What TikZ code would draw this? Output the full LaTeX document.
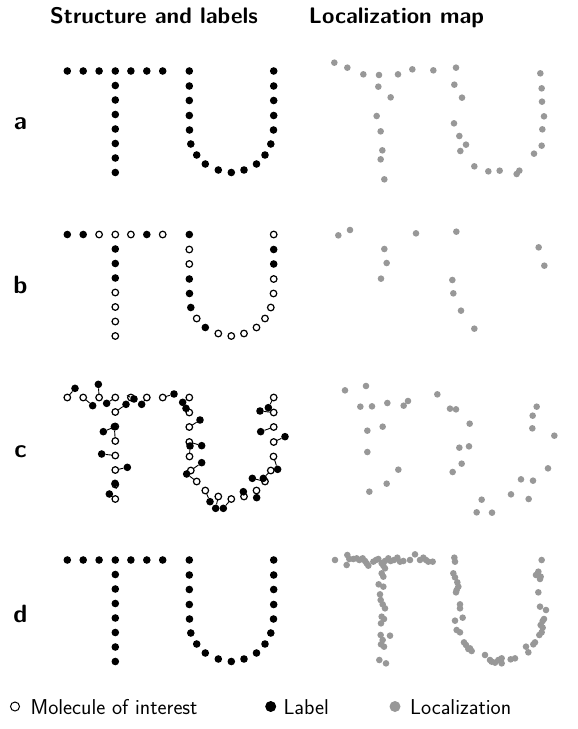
\documentclass[tikz,border=0pt]{standalone}
\usepackage{xcolor}
\definecolor{loccol}{RGB}{152,152,152}
\begin{document}
\begin{tikzpicture}[x=1pt,y=-1pt,
  lab/.style={circle,fill=black,inner sep=0pt,minimum size=7.6pt},
  site/.style={circle,draw=black,fill=white,line width=1.2pt,inner sep=0pt,minimum size=6.6pt},
  loc/.style={circle,fill=loccol,inner sep=0pt,minimum size=6.6pt},
  link/.style={line width=0.9pt,shorten <=-0.5pt},
  hdr/.style={font=\fontsize{22.5}{26}\selectfont\sffamily\bfseries,inner sep=0pt,anchor=base},
  rowlab/.style={font=\fontsize{25}{28}\selectfont\sffamily\bfseries,inner sep=0pt,anchor=base},
  legtxt/.style={font=\fontsize{21.5}{24}\selectfont\sffamily,inner sep=0pt,anchor=base west}]
\useasboundingbox (0,0) rectangle (578,729);
\def\sites{67.3/0,83.2/0,99.1/0,115.3/0,130.9/0,146.8/0,162.7/0,115.3/14.5,115.3/29,115.3/43.5,115.3/58,115.3/72.5,115.3/87,115.3/101.5,189.3/0,189.3/15,189.3/29.5,189.3/44.5,189.5/59,190.8/73,196.7/84,205.3/93,218.3/99,231.3/101.5,244/99,256.5/93,265/84,270.8/73,273.5/59,273.7/44.5,273.7/29.5,273.7/15,273.7/0}
\def\bpat{{1,1,0,0,0,1,0,1,1,1,0,0,0,0,1,0,0,1,1,1,0,1,0,0,0,0,0,0,0,0,1,1,0}}
% headers
\node[hdr] (h1) at (154,23) {Structure and labels};
\node[hdr] (h2) at (396.5,23) {Localization map};
% row labels
\node[rowlab] (ra) at (20.5,129.5) {a};
\node[rowlab] (rb) at (20.5,293.5) {b};
\node[rowlab] (rc) at (20.5,457.5) {c};
\node[rowlab] (rd) at (20.5,622.5) {d};
% row a
\foreach \x/\y [count=\i] in \sites {\node[lab] (a\i) at ({\x},{71+\y}) {};}
% row b
\foreach \x/\y [count=\i] in \sites {
  \pgfmathtruncatemacro\f{\bpat[\i-1]}
  \ifnum\f=1 \node[lab] (b\i) at ({\x},{234.5+\y}) {};
  \else \node[site] (b\i) at ({\x},{234.5+\y}) {};\fi}
% row c: sites
\foreach \x/\y [count=\i] in \sites {\node[site] (cS\i) at ({\x},{397.5+\y}) {};}
% row c: labels
\foreach \x/\y [count=\i] in {75/40,128/92,145/28,170/85,252/72,275/88,372/57,
  228/88,160/170,193/155,155/237,232/277,195/325,178/357,
  398/82,408/100,450/135,455/212,420/213,455/263,410/297,480/380,497/400,520/400,
  580/350,620/368,607/310,640/310,683/283,705/185,632/170,630/108,655/98}
  {\node[lab] (cL\i) at ({50+\x/3},{375+\y/3}) {};}
\foreach \i in {1,...,33} {\draw[link] (cS\i) -- (cL\i);}
% row d
\foreach \x/\y [count=\i] in \sites {\node[lab] (d\i) at ({\x},{560+\y}) {};}
% localization maps
\foreach \x/\y [count=\i] in {43/23,82/38,130/58,177/60,234/58,277/43,340/46,408/38,175/95,212/127,170/183,182/229,187/286,182/313,193/373,403/89,426/128,402/205,418/243,438/269,421/288,463/334,505/349,539/347,590/357,598/347,661/55,665/100,666/140,672/184,667/223,665/272,642/296}
  {\node[loc] (la\i) at ({320+\x/3},{55+\y/3}) {};}
\foreach \x/\y [count=\i] in {55/46,90/30,193/87,200/129,183/176,288/40,409/35,397/180,400/220,423/272,463/326,656/82,673/137}
  {\node[loc] (lb\i) at ({320+\x/3},{220+\y/3}) {};}
\foreach \x/\y [count=\i] in {75/46,138/33,121/95,156/94,202/84,251/92,264/78,142/167,188/155,142/231,235/284,200/326,148/350,352/58,390/101,408/103,449/146,418/218,447/214,425/266,398/291,485/374,470/412,516/413,573/358,626/372,603/313,639/317,684/280,703/182,637/160,638/122,650/95}
  {\node[loc] (lc\i) at ({320+\x/3},{375+\y/3}) {};}
\foreach \x/\y [count=\i] in {45/45,82/30,88/42,80/60,100/42,110/40,118/45,128/40,135/48,140/55,145/62,160/50,168/45,175/42,185/55,195/48,205/40,212/48,222/45,232/38,240/50,250/48,270/45,285/28,300/45,310/38,318/45,325/50,338/50,190/62,
  195/70,185/85,190/95,176/118,190/125,180/148,182/165,188/178,195/190,185/215,192/222,183/235,182/270,210/272,188/285,183/298,192/305,178/345,198/355,
  403/38,405/50,400/85,405/97,412/112,415/125,410/135,408/142,420/178,420/190,405/227,428/218,410/255,420/262,432/292,438/300,445/312,455/318,450/310,
  495/330,510/345,515/350,525/353,535/345,545/355,545/340,572/343,585/340,
  618/305,625/322,640/298,645/292,658/270,665/262,668/248,662/240,668/228,672/222,660/185,678/195,655/142,648/90,655/80,662/95,660/102,665/45}
  {\node[loc] (ld\i) at ({320+\x/3},{545+\y/3}) {};}
% legend
\node[site,minimum size=9pt,line width=1pt] (k1) at (15,706.5) {};
\node[legtxt] (t1) at (30.5,714) {Molecule of interest};
\node[lab,minimum size=11pt] (k2) at (270.7,706.5) {};
\node[legtxt] (t2) at (283.3,714) {Label};
\node[loc,minimum size=11pt] (k3) at (395,706.5) {};
\node[legtxt] (t3) at (410,714) {Localization};
\end{tikzpicture}
\end{document}
